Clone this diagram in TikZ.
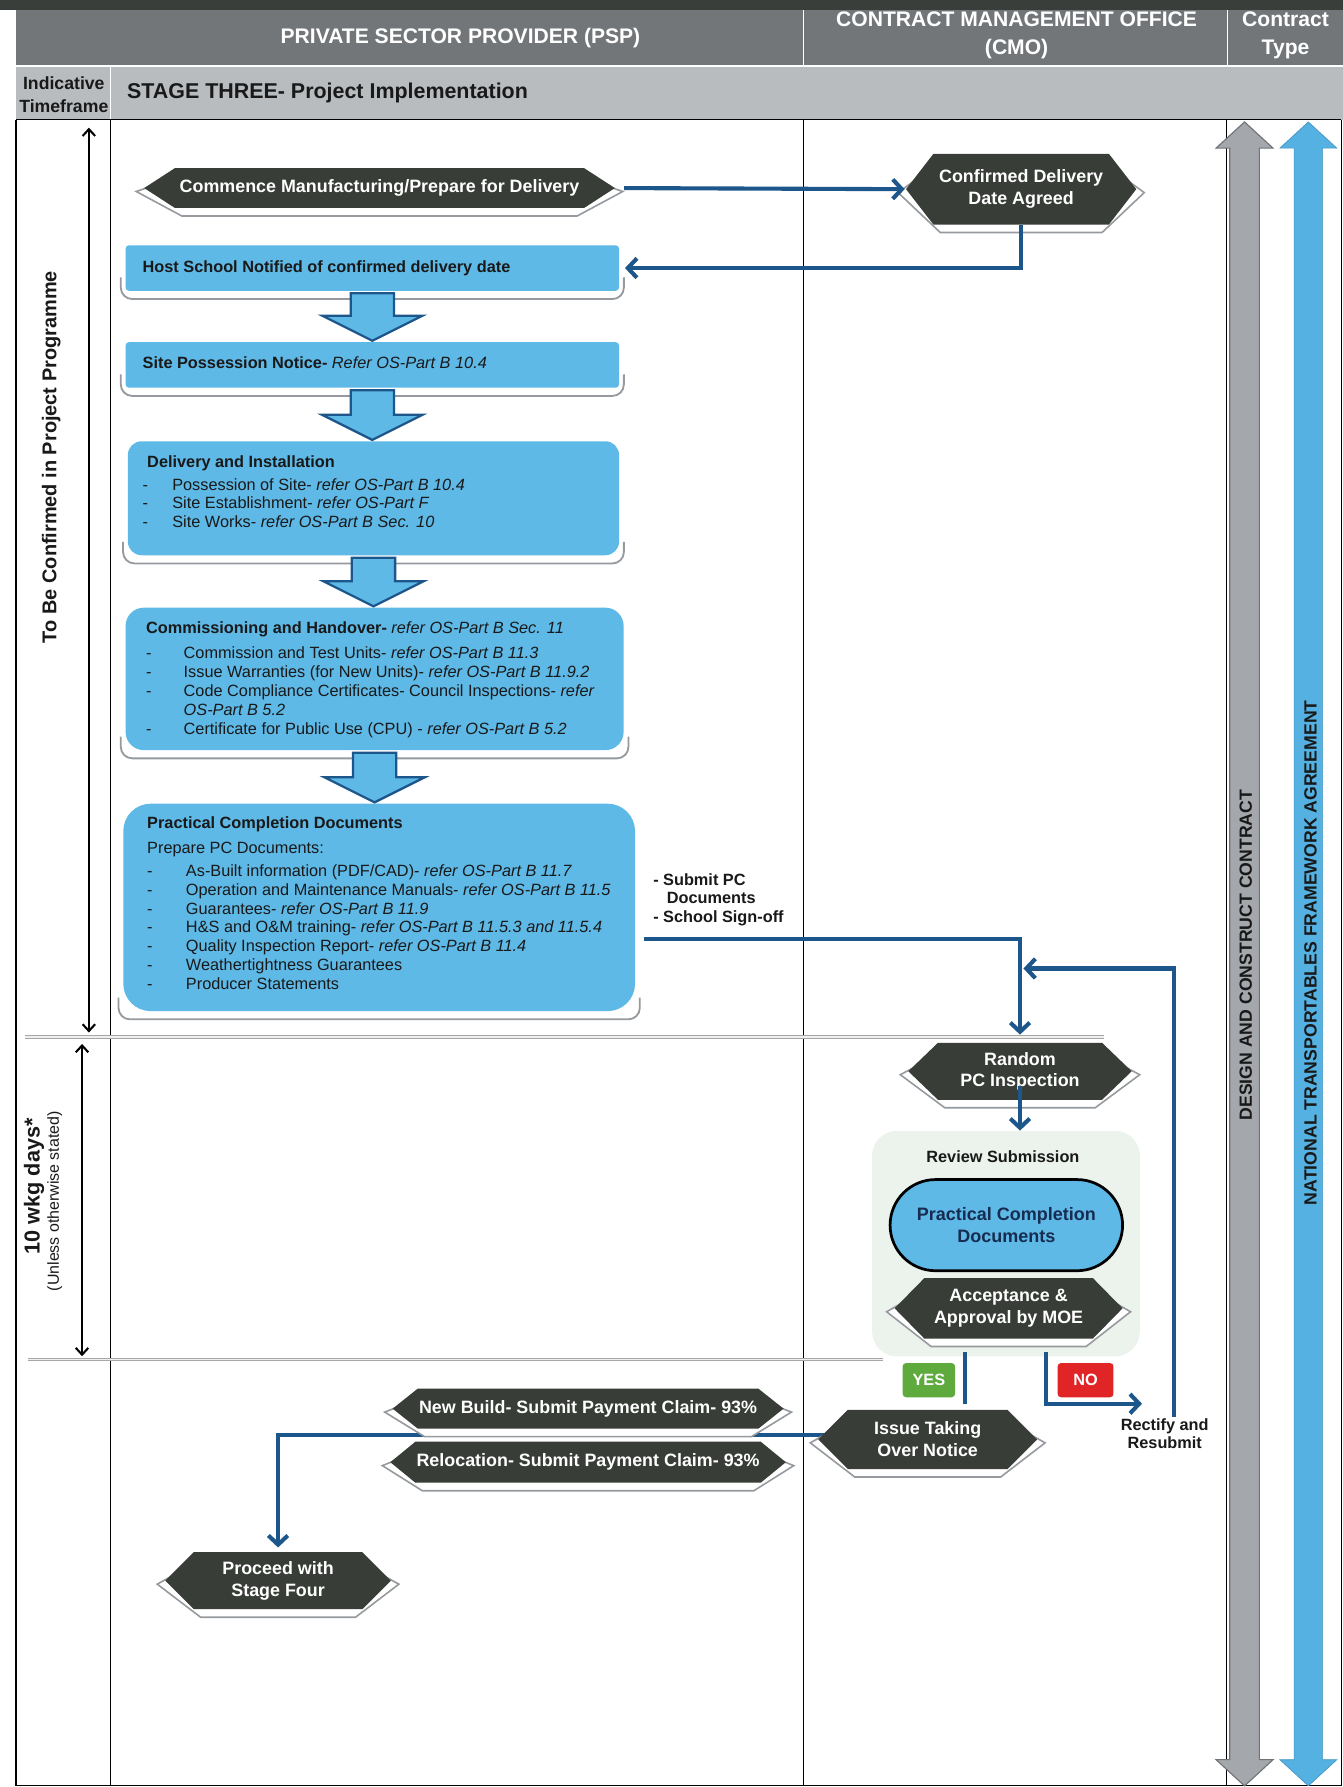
\documentclass[tikz,border=0pt]{standalone}
\usepackage{fontspec}
\setmainfont{Liberation Sans}
\usetikzlibrary{arrows.meta,calc}

\definecolor{bandtop}{RGB}{58,62,58}
\definecolor{headgray}{RGB}{115,118,121}
\definecolor{subgray}{RGB}{184,188,191}
\definecolor{skyblue}{RGB}{94,185,231}
\definecolor{flowblue}{RGB}{28,86,138}
\definecolor{hexdark}{RGB}{56,61,55}
\definecolor{shadegray}{RGB}{150,154,158}
\definecolor{yesgreen}{RGB}{94,170,60}
\definecolor{nored}{RGB}{225,36,38}
\definecolor{reviewtint}{RGB}{235,243,236}
\definecolor{navytext}{RGB}{22,44,80}
\definecolor{contractgray}{RGB}{164,168,172}
\definecolor{contractedge}{RGB}{112,116,120}
\definecolor{contractblue}{RGB}{84,177,226}
\definecolor{inkdark}{RGB}{25,25,25}

\pgfdeclarelayer{paper}
\pgfdeclarelayer{wire}
\pgfdeclarelayer{shade}
\pgfsetlayers{paper,wire,shade,main}

\tikzset{
  rule/.style={draw=black, line width=1pt},
  sepline/.style={draw=gray!70, double=gray!12, double distance=1.3pt, line width=0.8pt},
  bluebox/.style={fill=skyblue, draw=none, inner sep=0pt},
  boxtext/.style={inner sep=0pt, align=left, text=inkdark, font=\fontsize{14.3}{16.5}\selectfont},
  curlline/.style={draw=shadegray, line width=1.6pt, rounded corners=10pt},
  blockarrow/.style={fill=skyblue, draw=flowblue, line width=2pt, line join=miter},
  hexbody/.style={fill=hexdark},
  hexplate/.style={fill=white, draw=shadegray, line width=1.4pt},
  hexlabel/.style={inner sep=0pt, text=white, align=center, font=\fontsize{15.7}{19}\selectfont\bfseries},
  flow/.style={draw=flowblue, line width=3.6pt, -{Straight Barb[length=8pt,width=17pt]}},
  flowplain/.style={draw=flowblue, line width=3.6pt},
  span/.style={draw=black, line width=1.8pt, {Straight Barb[length=6pt,width=11pt]}-{Straight Barb[length=6pt,width=11pt]}},
  headtext/.style={text=white, align=center, font=\fontsize{18.5}{25}\selectfont\bfseries},
  subtext/.style={text=inkdark, align=center, font=\fontsize{15.5}{20}\selectfont\bfseries},
  notetext/.style={inner sep=0pt, text=inkdark, font=\fontsize{14.3}{16.5}\selectfont\bfseries},
  tag/.style={rounded corners=3pt, text=white, inner sep=0pt, font=\fontsize{14.3}{16}\selectfont\bfseries},
  contractlabel/.style={rotate=90, text=inkdark, font=\fontsize{15.5}{18}\selectfont\bfseries},
  ctgray/.style={fill=contractgray, draw=contractedge, line width=1pt, line join=miter},
  ctblue/.style={fill=contractblue, draw=contractblue!85!black, line width=0.6pt, line join=miter},
}

\newcommand{\dashitem}[2]{\makebox[#1][l]{-}#2}

% elongated hexagon with a raised plate beneath it
% #1 name, #2/#3 centre, #4 width, #5 height, #6 point depth, #7 label
\newcommand{\hexnode}[7]{%
  \begin{pgfonlayer}{shade}
    \path[hexplate] ({#2-#4/2-7},{#3+3}) -- ({#2-#4/2+#6+6},{#3+#5/2+7}) -- ({#2+#4/2-#6-6},{#3+#5/2+7}) -- ({#2+#4/2+7},{#3+3}) -- ({#2+#4/2-#6-6},{#3-#5/2+7}) -- ({#2-#4/2+#6+6},{#3-#5/2+7}) -- cycle;
  \end{pgfonlayer}
  \path[hexbody] ({#2-#4/2},#3) -- ({#2-#4/2+#6},{#3-#5/2}) -- ({#2+#4/2-#6},{#3-#5/2}) -- ({#2+#4/2},#3) -- ({#2+#4/2-#6},{#3+#5/2}) -- ({#2-#4/2+#6},{#3+#5/2}) -- cycle;
  \node[hexlabel, minimum width=#4, minimum height=#5] (#1) at (#2,#3) {#7};
}

% curled shadow under a light blue box
\newcommand{\curl}[1]{%
  \begin{pgfonlayer}{shade}
    \draw[curlline] ($(#1.south west)+(-4,-12)$) |- ($(#1.south)+(0,7)$) -| ($(#1.south east)+(4,-12)$);
  \end{pgfonlayer}}

% broad downward arrow from one box to the next
\newcommand{\blockdown}[2]{%
  \path[blockarrow] let \p1=(#1.south), \p2=(#2.north) in
    (\x1-19pt,\y1-2pt) -- (\x1+19pt,\y1-2pt) -- (\x1+19pt,\y2+23pt) -- (\x1+44pt,\y2+23pt)
    -- (\x1,\y2+1pt) -- (\x1-44pt,\y2+23pt) -- (\x1-19pt,\y2+23pt) -- cycle;}

\begin{document}
\begin{tikzpicture}[x=1pt, y=-1pt]
\useasboundingbox (0,0) rectangle (1178,1568);

% ---------- sheet, header rows and column rules ----------
\begin{pgfonlayer}{paper}
  \fill[white] (0,0) rectangle (1178,1568);
  \fill[bandtop] (0,0) rectangle (1178,9);
  \fill[headgray] (14,9) rectangle (1178,58);
  \fill[subgray] (14,58) rectangle (1178,105);
  \draw[white, line width=1.2pt] (14,58) -- (1178,58);
  \draw[white, line width=1.2pt] (705,9) -- (705,58);
  \draw[white, line width=1.2pt] (1077,9) -- (1077,58);
  \draw[white, line width=1.2pt] (97,58) -- (97,105);
  \draw[rule] (14,105) -- (1177,105);
  \draw[rule] (14,105) -- (14,1567) -- (1177,1567) -- (1177,105);
  \draw[rule] (97,105) -- (97,1567);
  \draw[rule] (705,105) -- (705,1567);
  \draw[rule] (1076,105) -- (1076,1567);
  \draw[sepline] (22,910) -- (969,910);
  \draw[sepline] (25,1193) -- (775,1193);
  \node[fill=reviewtint, rounded corners=22pt, minimum width=235, minimum height=198, anchor=north west, inner sep=0pt] (review) at (765,992) {};
\end{pgfonlayer}

\node[headtext] (psp) at (404,33) {PRIVATE SECTOR PROVIDER (PSP)};
\node[headtext] (cmo) at (892,31) {CONTRACT MANAGEMENT OFFICE\\(CMO)};
\node[headtext] (ctype) at (1128,31) {Contract\\Type};
\node[subtext] (tfhead) at (56,83) {Indicative\\Timeframe};
\node[anchor=west, text=inkdark, font=\fontsize{18.8}{22}\selectfont\bfseries] (stage) at (108,82) {STAGE THREE- Project Implementation};

% ---------- timeframe spans ----------
\coordinate (tfa1) at (78,112);
\coordinate (tfa2) at (78,906);
\coordinate (tfb1) at (72,916);
\coordinate (tfb2) at (72,1190);
\draw[span] (tfa1) -- (tfa2);
\draw[span] (tfb1) -- (tfb2);
\node[rotate=90, text=inkdark, font=\fontsize{17.5}{20}\selectfont\bfseries] (tfl1) at (45,401) {To Be Confirmed in Project Programme};
\node[rotate=90, text=inkdark, font=\fontsize{19}{21}\selectfont\bfseries] (tfl2) at (30,1041) {10 wkg days*};
\node[rotate=90, text=inkdark, font=\fontsize{14}{16}\selectfont] (tfl3) at (48,1054) {(Unless otherwise stated)};

% ---------- contract type bands ----------
\path[ctgray] (1079,130) -- (1067,130) -- (1092,107) -- (1117,130) -- (1105,130) -- (1105,1544) -- (1117,1544) -- (1092,1567) -- (1067,1544) -- (1079,1544) -- cycle;
\path[ctblue] (1135.5,130) -- (1123,130) -- (1148,107) -- (1173,130) -- (1160.5,130) -- (1160.5,1544) -- (1173,1544) -- (1148,1567) -- (1123,1544) -- (1135.5,1544) -- cycle;
\node[contractlabel] (dcc) at (1093,838) {DESIGN AND CONSTRUCT CONTRACT};
\node[contractlabel] (ntfa) at (1150,836) {NATIONAL TRANSPORTABLES FRAMEWORK AGREEMENT};

% ---------- provider column boxes ----------
\node[bluebox, rounded corners=3pt, minimum width=433, minimum height=40, anchor=north west] (host) at (110,215) {};
\node[boxtext, anchor=west] (hosttxt) at (125,235) {\bfseries Host School Notified of confirmed delivery date};
\curl{host}

\node[bluebox, rounded corners=3pt, minimum width=433, minimum height=40, anchor=north west] (site) at (110,300) {};
\node[boxtext, anchor=west] (sitetxt) at (125,318) {\textbf{Site Possession Notice-} \textit{Refer OS-Part B 10.4}};
\curl{site}

\node[bluebox, rounded corners=12pt, minimum width=431, minimum height=100, anchor=north west] (deliv) at (112,387) {};
\node[boxtext, anchor=north west] (delivtxt) at (125,399.5) {%
  \hspace*{4pt}\textbf{Delivery and Installation}\\[3.5pt]
  \dashitem{26pt}{Possession of Site- \textit{refer OS-Part B 10.4}}\\
  \dashitem{26pt}{Site Establishment- \textit{refer OS-Part F}}\\
  \dashitem{26pt}{Site Works- \textit{refer OS-Part B Sec. 10}}};
\curl{deliv}

\node[bluebox, rounded corners=16pt, minimum width=437, minimum height=125, anchor=north west] (comm) at (110,533) {};
\node[boxtext, anchor=north west] (commtxt) at (128,545.5) {%
  \textbf{Commissioning and Handover-} \textit{refer OS-Part B Sec. 11}\\[5.5pt]
  \dashitem{33pt}{Commission and Test Units- \textit{refer OS-Part B 11.3}}\\
  \dashitem{33pt}{Issue Warranties (for New Units)- \textit{refer OS-Part B 11.9.2}}\\
  \dashitem{33pt}{Code Compliance Certificates- Council Inspections- \textit{refer}}\\
  \hspace*{33pt}\textit{OS-Part B 5.2}\\
  \dashitem{33pt}{Certificate for Public Use (CPU) - \textit{refer OS-Part B 5.2}}};
\curl{comm}

\node[bluebox, rounded corners=24pt, minimum width=449, minimum height=182, anchor=north west] (pcd) at (108,705) {};
\node[boxtext, anchor=north west] (pcdtxt) at (129,716.5) {%
  \textbf{Practical Completion Documents}\\[5.5pt]
  Prepare PC Documents:\\[3.5pt]
  \dashitem{34pt}{As-Built information (PDF/CAD)- \textit{refer OS-Part B 11.7}}\\
  \dashitem{34pt}{Operation and Maintenance Manuals- \textit{refer OS-Part B 11.5}}\\
  \dashitem{34pt}{Guarantees- \textit{refer OS-Part B 11.9}}\\
  \dashitem{34pt}{H\&S and O\&M training- \textit{refer OS-Part B 11.5.3 and 11.5.4}}\\
  \dashitem{34pt}{Quality Inspection Report- \textit{refer OS-Part B 11.4}}\\
  \dashitem{34pt}{Weathertightness Guarantees}\\
  \dashitem{34pt}{Producer Statements}};
\curl{pcd}

\blockdown{host}{site}
\blockdown{site}{deliv}
\blockdown{deliv}{comm}
\blockdown{comm}{pcd}

% ---------- hexagon steps ----------
\hexnode{com}{333}{165}{413}{35}{27}{Commence Manufacturing/Prepare for Delivery}
\hexnode{cda}{896}{166}{202}{62}{24}{Confirmed Delivery\\Date Agreed}
\hexnode{rnd}{895}{940}{196}{50}{26}{Random\\PC Inspection}
\hexnode{nb}{516}{1236}{343}{35}{22}{New Build- Submit Payment Claim- 93\%}
\hexnode{rl}{516}{1283}{347}{36}{22}{Relocation- Submit Payment Claim- 93\%}
\hexnode{iss}{814}{1263}{192}{52}{26}{Issue Taking\\Over Notice}
\hexnode{pro}{244}{1387}{198}{50}{25}{Proceed with\\Stage Four}

% ---------- review submission group ----------
\node[text=inkdark, font=\fontsize{14.3}{16}\selectfont\bfseries] (revtitle) at (880,1015) {Review Submission};
\node[fill=skyblue, draw=black, line width=2.4pt, rounded corners=40pt, minimum width=204, minimum height=80, inner sep=0pt,
      align=center, text=navytext, font=\fontsize{15.8}{19}\selectfont\bfseries] (pill) at (883,1075) {Practical Completion\\Documents};
\hexnode{acc}{885}{1148}{200}{53}{26}{Acceptance \&\\Approval by MOE}

\node[tag, fill=yesgreen, minimum width=46, minimum height=30] (yes) at (815,1211) {YES};
\node[tag, fill=nored, minimum width=49, minimum height=30] (no) at (952.5,1211) {NO};
\node[notetext, align=center] (rect) at (1022,1258) {Rectify and\\Resubmit};
\node[notetext, anchor=north west, align=left] (submit) at (573,766) {- Submit PC\\\hspace*{12pt}Documents\\- School Sign-off};

% ---------- connectors ----------
\draw[flow, shorten <=8pt, shorten >=1pt] (com.east) -- (cda.west);
\draw[flow, shorten >=5pt] (cda.south) |- (host.east);
\coordinate (pcout) at ($(pcd.east)+(8,28)$);
\draw[flow, shorten >=7pt] (pcout) -| (rnd.north);
\draw[flow] ($(rnd.south)+(0,-12)$) -- (rnd.south |- review.north);
\coordinate (loopfoot) at ($(rect.north)+(8,-1)$);
\coordinate (loopjoin) at ($(rnd.north)+(3,-65)$);
\draw[flow] (loopfoot) |- (loopjoin);
\draw[flow] ($(acc.south)+(33,12)$) |- ($(acc.south)+(117,57)$);
\draw[flowplain] ($(acc.south)+(-38,12)$) -- ($(acc.south)+(-38,57)$);
\begin{pgfonlayer}{wire}
  \draw[flow, shorten >=4pt] ($(iss.west)+(6,-4)$) -| (pro.north);
\end{pgfonlayer}

\end{tikzpicture}
\end{document}
